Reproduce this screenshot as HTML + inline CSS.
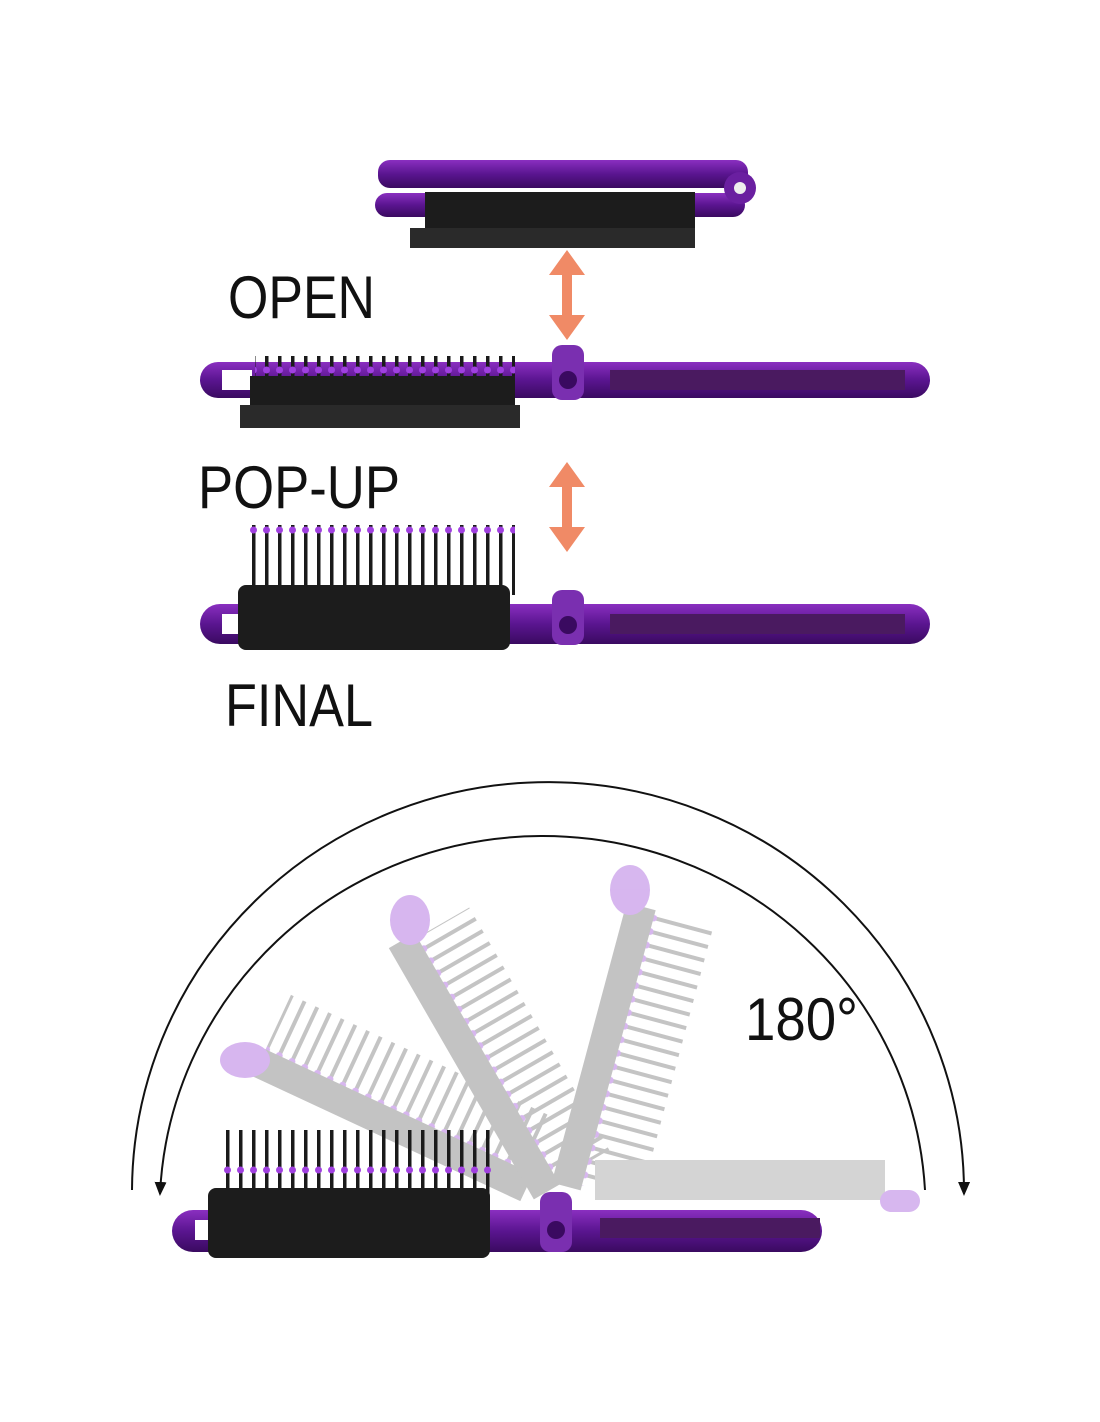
<!DOCTYPE html>
<html><head><meta charset="utf-8"><style>
html,body{margin:0;padding:0;background:#fff;}
svg{display:block;}
text{font-family:"Liberation Sans","DejaVu Sans",sans-serif;fill:#111;}
</style></head><body>
<svg width="1100" height="1422" viewBox="0 0 1100 1422" xmlns="http://www.w3.org/2000/svg">
<defs>
<pattern id="br" width="13" height="80" patternUnits="userSpaceOnUse">
<rect x="5" y="0" width="3.5" height="80" fill="#1a1a1a"/>
<circle cx="6.5" cy="50" r="3.5" fill="#a040e0"/>
</pattern>
<pattern id="brg" width="14" height="80" patternUnits="userSpaceOnUse">
<rect x="5" y="0" width="4" height="80" fill="#8a8a8a"/>
<circle cx="7" cy="50" r="3.5" fill="#b070e0"/>
</pattern>
<linearGradient id="pu" x1="0" y1="0" x2="0" y2="1">
<stop offset="0" stop-color="#8a2fc0"/><stop offset="0.5" stop-color="#5a1590"/><stop offset="1" stop-color="#3a0a60"/>
</linearGradient>
<marker id="ah" markerWidth="14" markerHeight="12" refX="12" refY="6" orient="auto" markerUnits="userSpaceOnUse">
<path d="M0,0 L14,6 L0,12 Z" fill="#111"/>
</marker>
</defs>
<rect width="1100" height="1422" fill="#fff"/>

<rect x="378" y="160" width="370" height="28" rx="12" fill="url(#pu)"/>
<rect x="375" y="193" width="370" height="24" rx="12" fill="url(#pu)"/>
<rect x="425" y="192" width="270" height="40" fill="#1c1c1c"/>
<rect x="410" y="228" width="285" height="20" fill="#2a2a2a"/>
<circle cx="740" cy="188" r="16" fill="#6a1fa0"/><circle cx="740" cy="188" r="6" fill="#eee"/>

<text x="228" y="318" font-size="60" textLength="147" lengthAdjust="spacingAndGlyphs">OPEN</text>
<path d="M567,250 L585,275 L572,275 L572,315 L585,315 L567,340 L549,315 L562,315 L562,275 L549,275 Z" fill="#f08a66"/>

<rect x="200" y="362" width="730" height="36" rx="18" fill="url(#pu)"/>
<rect x="222" y="370" width="30" height="20" fill="#fff"/>
<rect x="610" y="370" width="295" height="20" fill="#4a1a60"/>
<rect x="255" y="356" width="260" height="20" fill="url(#br)"/>
<rect x="250" y="376" width="265" height="35" fill="#1c1c1c"/>
<rect x="240" y="405" width="280" height="23" fill="#2a2a2a"/>
<rect x="552" y="345" width="32" height="55" rx="10" fill="#7a2fb0"/>
<circle cx="568" cy="380" r="9" fill="#3a0a60"/>

<text x="198" y="508" font-size="60" textLength="202" lengthAdjust="spacingAndGlyphs">POP-UP</text>
<path d="M567,462 L585,487 L572,487 L572,527 L585,527 L567,552 L549,527 L562,527 L562,487 L549,487 Z" fill="#f08a66"/>

<rect x="200" y="604" width="730" height="40" rx="20" fill="url(#pu)"/>
<rect x="222" y="614" width="30" height="20" fill="#fff"/>
<rect x="610" y="614" width="295" height="20" fill="#4a1a60"/>
<rect x="248" y="525" width="267" height="70" fill="url(#br)"/>
<rect x="238" y="585" width="272" height="65" rx="8" fill="#1c1c1c"/>
<rect x="552" y="590" width="32" height="55" rx="10" fill="#7a2fb0"/>
<circle cx="568" cy="625" r="9" fill="#3a0a60"/>

<text x="225" y="726" font-size="60" textLength="148" lengthAdjust="spacingAndGlyphs">FINAL</text>

<path d="M132,1190 A416,410 0 0 1 964,1194" fill="none" stroke="#111" stroke-width="2" marker-end="url(#ah)"/>
<path d="M925,1190 A383,375 0 0 0 160,1194" fill="none" stroke="#111" stroke-width="2" marker-end="url(#ah)"/>
<text x="745" y="1040" font-size="60" textLength="113" lengthAdjust="spacingAndGlyphs">180°</text>

<g opacity="0.5">
<g transform="rotate(25 520 1190)">
<rect x="230" y="1110" width="290" height="70" fill="url(#brg)"/>
<rect x="225" y="1170" width="300" height="30" fill="#888"/>
</g>
<g transform="rotate(60 540 1190)">
<rect x="260" y="1110" width="280" height="70" fill="url(#brg)"/>
<rect x="255" y="1170" width="290" height="30" fill="#888"/>
</g>
<g transform="rotate(105 560 1190)">
<rect x="270" y="1110" width="280" height="70" fill="url(#brg)"/>
<rect x="265" y="1170" width="290" height="30" fill="#888"/>
</g>
<rect x="595" y="1160" width="290" height="40" fill="#aaa"/>
<ellipse cx="245" cy="1060" rx="25" ry="18" fill="#b070e0"/>
<ellipse cx="410" cy="920" rx="20" ry="25" fill="#b070e0"/>
<ellipse cx="630" cy="890" rx="20" ry="25" fill="#b070e0"/>
<rect x="880" y="1190" width="40" height="22" rx="11" fill="#b070e0"/>
</g>

<rect x="172" y="1210" width="650" height="42" rx="21" fill="url(#pu)"/>
<rect x="195" y="1220" width="25" height="20" fill="#fff"/>
<rect x="600" y="1218" width="220" height="20" fill="#4a1a60"/>
<rect x="220" y="1130" width="273" height="75" fill="url(#br)"/>
<rect x="208" y="1188" width="282" height="70" rx="8" fill="#1c1c1c"/>
<rect x="540" y="1192" width="32" height="60" rx="10" fill="#7a2fb0"/>
<circle cx="556" cy="1230" r="9" fill="#3a0a60"/>
</svg>
</body></html>
